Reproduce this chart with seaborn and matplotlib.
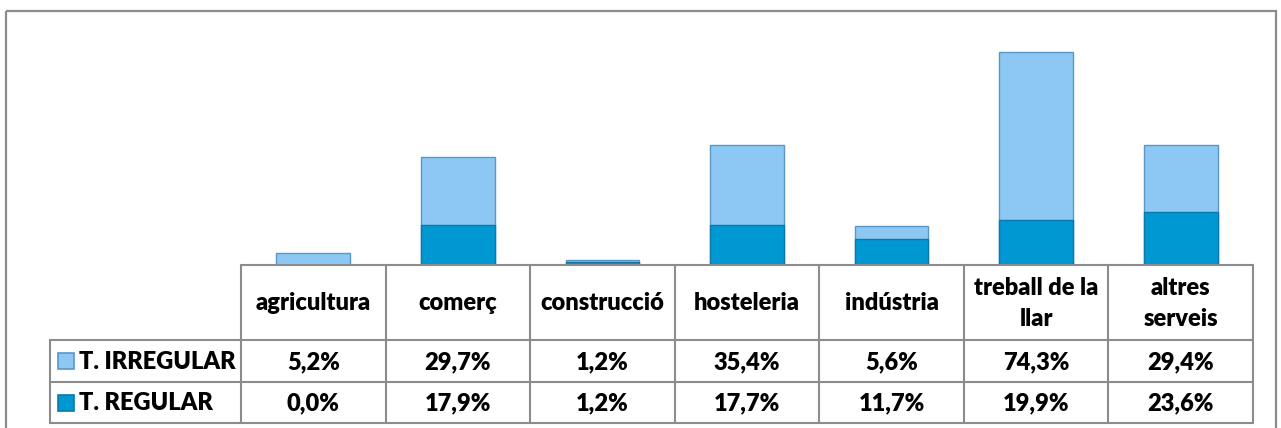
import numpy as np
import matplotlib
matplotlib.use("Agg")
import matplotlib.pyplot as plt
import seaborn as sns
from matplotlib.patches import Rectangle

sns.set_theme(style="white")
plt.rcParams['font.family'] = ['Lato', 'DejaVu Sans']

# data
categories = ['agricultura', 'comerç', 'construcció', 'hosteleria',
              'indústria', 'treball de la llar', 'altres serveis']
header_labels = ['agricultura', 'comerç', 'construcció', 'hosteleria',
                 'indústria', 'treball de la\nllar', 'altres\nserveis']
irregular = [5.2, 29.7, 1.2, 35.4, 5.6, 74.3, 29.4]
regular = [0.0, 17.9, 1.2, 17.7, 11.7, 19.9, 23.6]
series_names = ['T. IRREGULAR', 'T. REGULAR']

light = '#8CC8F3'
light_edge = '#5A96C6'
dark = '#0098D2'
dark_edge = '#0B78AC'
grid_col = '#8C8C8C'

W, H = 1281, 428
fig = plt.figure(figsize=(W / 100, H / 100), dpi=100)

# layout in pixels
x0, x1 = 241, 1253
base_y, top_y = 265, 39
lab_x = 50
row_y = [265, 340, 382, 423]

ax = fig.add_axes([x0 / W, (H - base_y) / H, (x1 - x0) / W, (base_y - top_y) / H])
totals = np.array(irregular) + np.array(regular)
sns.barplot(x=categories, y=totals, color=light, edgecolor=light_edge,
            linewidth=1.0, width=0.51, saturation=1, ax=ax)
sns.barplot(x=categories, y=regular, color=dark, edgecolor=dark_edge,
            linewidth=1.0, width=0.51, saturation=1, ax=ax)
ax.set_xlim(-0.5, len(categories) - 0.5)
ax.set_ylim(0, 100)
ax.axis('off')

# table drawn in pixel space
tab = fig.add_axes([0, 0, 1, 1], zorder=3)
tab.set_xlim(0, W)
tab.set_ylim(H, 0)
tab.axis('off')
tab.patch.set_alpha(0)

# outer chart border
tab.add_patch(Rectangle((6, 11), 1270, 430, fill=False, edgecolor=grid_col, lw=1.6))

n = len(categories)
colw = (x1 - x0) / n
col_edges = [x0 + i * colw for i in range(n + 1)]
lw = 1.5
# horizontal lines
tab.plot([x0, x1], [row_y[0]] * 2, color=grid_col, lw=lw)
for y in row_y[1:]:
    tab.plot([lab_x, x1], [y, y], color=grid_col, lw=lw)
# vertical lines
tab.plot([lab_x, lab_x], [row_y[1], row_y[3]], color=grid_col, lw=lw)
for xe in col_edges:
    tab.plot([xe, xe], [row_y[0], row_y[3]], color=grid_col, lw=lw)

fs = 17
fw = 'heavy'
for i, lab in enumerate(header_labels):
    cx = col_edges[i] + colw / 2
    tab.text(cx, (row_y[0] + row_y[1]) / 2 + 1, lab, ha='center', va='center',
             fontsize=fs, fontweight=fw, color='black', linespacing=1.45)

rows = [irregular, regular]
fills = [(light, light_edge), (dark, dark_edge)]
for r, (vals, name, (fc, ec)) in enumerate(zip(rows, series_names, fills)):
    cy = (row_y[r + 1] + row_y[r + 2]) / 2
    tab.add_patch(Rectangle((58, cy - 8), 16, 16, facecolor=fc, edgecolor=ec, lw=1.2))
    tab.text(79, cy + 1, name, ha='left', va='center', fontsize=fs,
             fontweight=fw, color='black')
    for i, v in enumerate(vals):
        cx = col_edges[i] + colw / 2
        tab.text(cx, cy + 1, f'{v:.1f}%'.replace('.', ','), ha='center', va='center',
                 fontsize=fs, fontweight=fw, color='black')

fig.savefig('out.png', dpi=100, facecolor='white')
